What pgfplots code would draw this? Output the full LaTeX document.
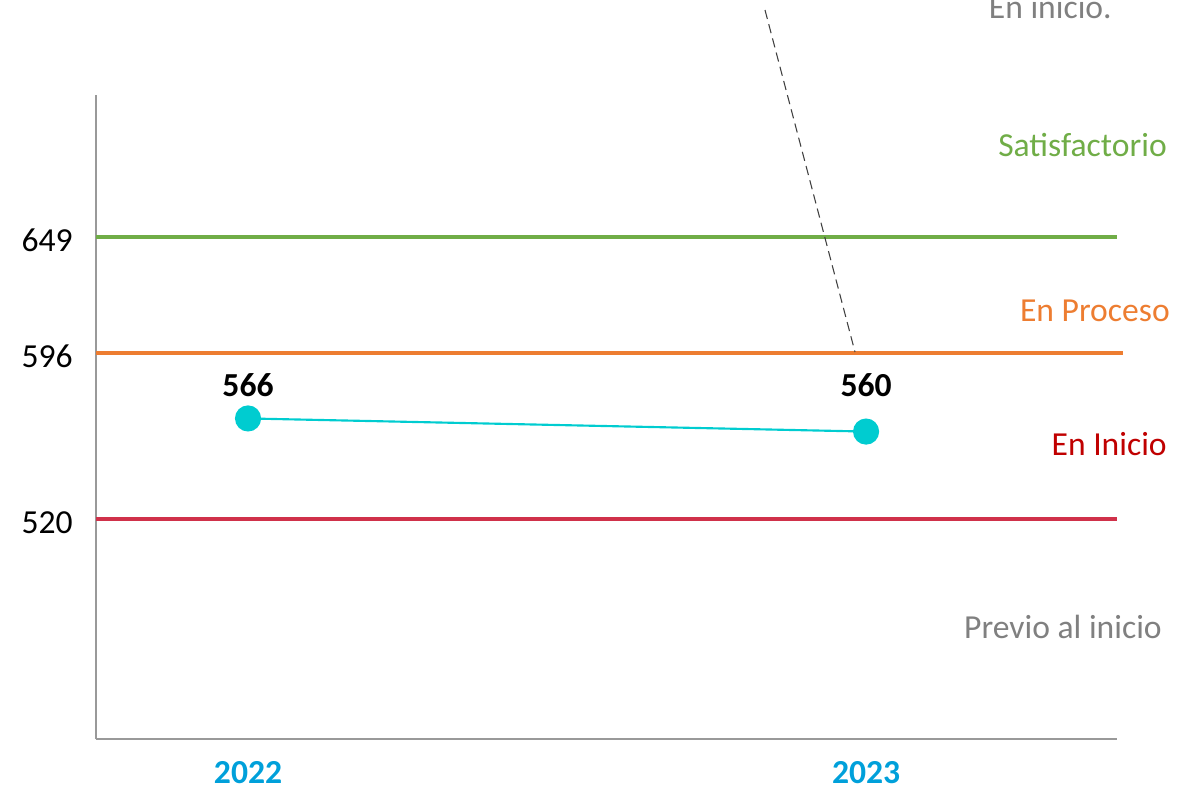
\documentclass[border=0pt]{standalone}
\usepackage{pgfplots}
\pgfplotsset{compat=1.18}
\usepackage{fontspec}
\setmainfont{Carlito}
\definecolor{cgreen}{HTML}{70AD47}
\definecolor{corange}{HTML}{ED7D31}
\definecolor{cred}{HTML}{D0314A}
\definecolor{cdred}{HTML}{C00000}
\definecolor{ccyan}{HTML}{00CCD0}
\definecolor{cblue}{HTML}{00A0DA}
\definecolor{cgray}{HTML}{808080}
\begin{document}
\begin{tikzpicture}[x=0.75pt,y=-0.75pt]
\newcommand{\fs}{\fontsize{25.2}{30}\selectfont}
\begin{axis}[
  at={(72pt,-554.25pt)}, anchor=south west,
  scale only axis, width=765.75pt, height=483pt,
  xmin=2021.754, xmax=2023.406,
  ymin=419.36, ymax=713.96,
  axis x line*=bottom, axis y line*=left,
  axis line style={color=black!40, line width=1.1pt, -},
  xtick={2022,2023}, xticklabels={2022,2023},
  ytick={520,596,649},
  tick style={draw=none},
  /pgf/number format/assume math mode=true,
  yticklabel style={font=\fs, color=black, anchor=east, xshift=-14pt, yshift=-2.5pt},
  xticklabel style={font=\fs\bfseries, color=cblue, anchor=north, yshift=-13pt},
  clip=false,
]
\addplot[color=cgreen, line width=3pt] coordinates {(2021.754,649) (2023.406,649)};
\addplot[color=corange, line width=3pt] coordinates {(2021.754,596) (2023.416,596)};
\addplot[color=cred, line width=3pt] coordinates {(2021.754,520) (2023.406,520)};
\addplot[color=ccyan, line width=1.6pt, mark=*, mark size=9pt, mark options={fill=ccyan, draw=ccyan},
  nodes near coords, point meta=explicit symbolic,
  visualization depends on={y \as \yv},
  every node near coord/.style={font=\fs\bfseries, color=black, anchor=base, inner sep=0pt,
    yshift={(16.5+(566-\yv)*1.6395)*1pt}}]
  coordinates {(2022,566) [566] (2023,560) [560]};
\end{axis}
\draw[black!75, dashed, line width=0.8pt, dash pattern=on 7pt off 4pt] (765,10) -- (855,352);
\node[anchor=base east, inner sep=0, font=\fs, color=cgray] at (1112,18) {En inicio.};
\node[anchor=base east, inner sep=0, font=\fs, color=cgreen] at (1167,156) {Satisfactorio};
\node[anchor=base east, inner sep=0, font=\fs, color=corange] at (1170,321) {En Proceso};
\node[anchor=base east, inner sep=0, font=\fs, color=cdred] at (1167,455) {En Inicio};
\node[anchor=base east, inner sep=0, font=\fs, color=cgray] at (1162,638) {Previo al inicio};
\pgfresetboundingbox
\useasboundingbox (0,0) rectangle (1197,793);
\end{tikzpicture}
\end{document}
